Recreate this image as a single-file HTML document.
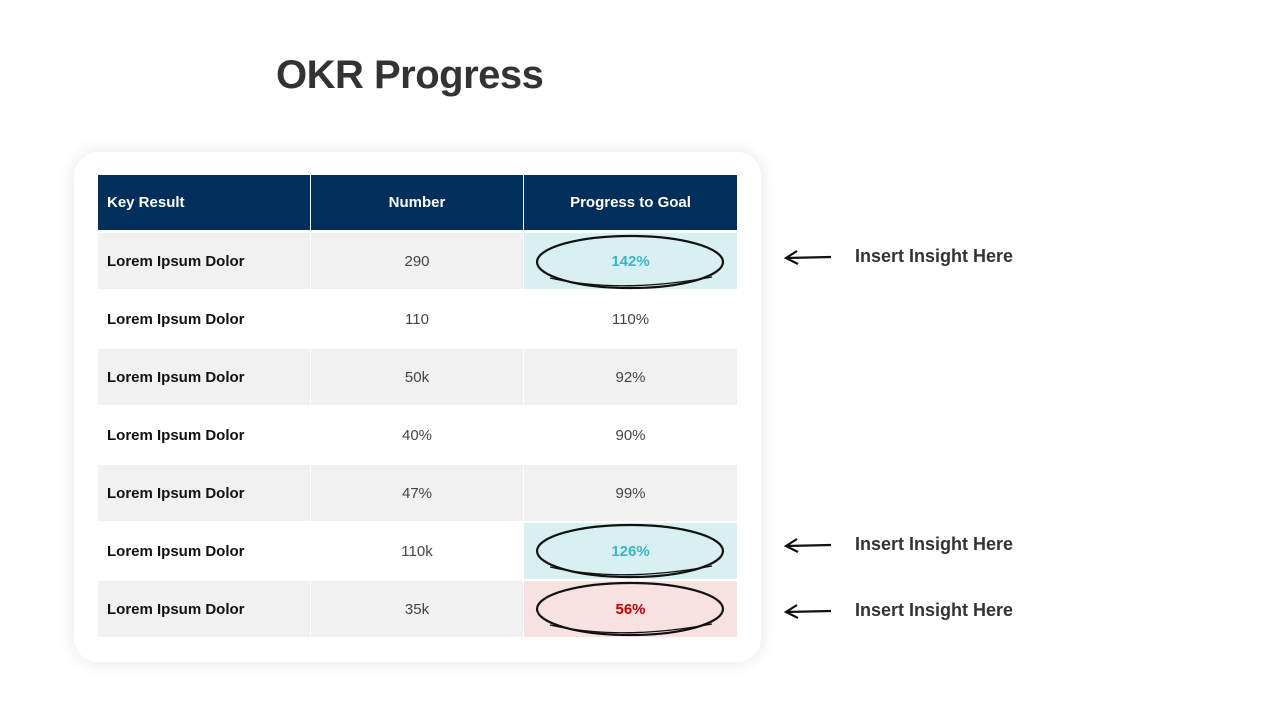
<!DOCTYPE html>
<html><head><meta charset="utf-8"><style>
body{margin:0;width:1280px;height:720px;background:#fff;position:relative;overflow:hidden;font-family:"Liberation Sans",sans-serif;}
.title{position:absolute;left:276px;top:53px;font-size:40px;font-weight:bold;color:#333;letter-spacing:-0.5px}
.card{position:absolute;left:74px;top:152px;width:687px;height:510px;background:#fff;border-radius:24px;box-shadow:0 0 18px rgba(0,0,0,0.10)}
.c{position:absolute;display:flex;align-items:center;font-size:15px;color:#444;justify-content:center}
.h{background:#002f5c;color:#fff;font-weight:bold;font-size:15px}
.k{justify-content:flex-start;padding-left:9px;box-sizing:border-box;font-weight:bold;color:#111}
.ins{position:absolute;left:855px;font-size:18px;font-weight:bold;color:#333}
svg{position:absolute;left:0;top:0}
</style></head><body>
<div class="title">OKR Progress</div>
<div class="card"></div>
<div class="c h k" style="left:98px;top:175px;width:212px;height:55px;color:#fff">Key Result</div>
<div class="c h" style="left:311px;top:175px;width:212px;height:55px">Number</div>
<div class="c h" style="left:524px;top:175px;width:213px;height:55px">Progress to Goal</div>
<div id="rows"></div>
<script>
var d=[["290","142%","#d9f0f2","#3bb5c4"],["110","110%"],["50k","92%"],["40%","90%"],["47%","99%"],["110k","126%","#d9f0f2","#3bb5c4"],["35k","56%","#f8e1e1","#c00000"]];
var h="";
d.forEach(function(r,i){var y=233+i*58;var bg=i%2==0?"#f1f1f1":"#fff";
h+='<div class="c k" style="left:98px;top:'+y+'px;width:212px;height:56px;background:'+bg+'">Lorem Ipsum Dolor</div>';
h+='<div class="c" style="left:311px;top:'+y+'px;width:212px;height:56px;background:'+bg+'">'+r[0]+'</div>';
h+='<div class="c" style="left:524px;top:'+y+'px;width:213px;height:56px;background:'+(r[2]||bg)+';'+(r[3]?'color:'+r[3]+';font-weight:bold':'')+'">'+r[1]+'</div>';});
document.getElementById("rows").innerHTML=h;
</script>
<svg width="1280" height="720" fill="none" stroke="#111" stroke-width="2.2">
<g><ellipse cx="630" cy="262" rx="93" ry="26"/><path d="M550 278 Q620 294 712 277" stroke-width="1.3"/></g>
<g><ellipse cx="630" cy="551" rx="93" ry="26"/><path d="M550 567 Q620 583 712 566" stroke-width="1.3"/></g>
<g><ellipse cx="630" cy="609" rx="93" ry="26"/><path d="M550 625 Q620 641 712 624" stroke-width="1.3"/></g>
<g><path d="M786 258 L831 257 M797 251 L786 258 L798 264"/></g>
<g><path d="M786 546 L831 545 M797 539 L786 546 L798 552"/></g>
<g><path d="M786 612 L831 611 M797 605 L786 612 L798 618"/></g>
</svg>
<div class="ins" style="top:246px">Insert Insight Here</div>
<div class="ins" style="top:534px">Insert Insight Here</div>
<div class="ins" style="top:600px">Insert Insight Here</div>
</body></html>
